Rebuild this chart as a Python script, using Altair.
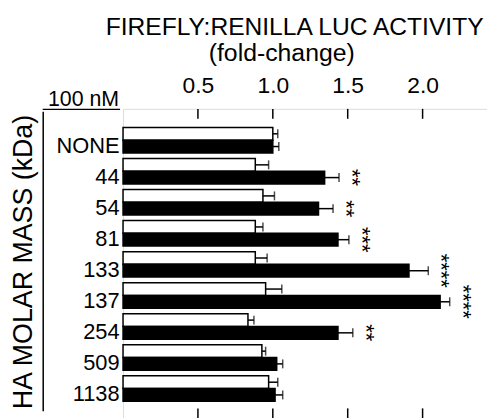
import altair as alt
import pandas as pd

categories = ["NONE", "44", "54", "81", "133", "137", "254", "509", "1138"]
control_mean = [1.00, 0.883, 0.934, 0.883, 0.883, 0.952, 0.834, 0.927, 0.972]
control_err = [0.033, 0.089, 0.077, 0.051, 0.079, 0.108, 0.040, 0.025, 0.061]
ha_mean = [1.00, 1.346, 1.305, 1.435, 1.909, 2.117, 1.435, 1.026, 1.015]
ha_err = [0.040, 0.096, 0.097, 0.073, 0.129, 0.064, 0.099, 0.040, 0.051]
stars = ["", "**", "**", "***", "****", "****", "**", "", ""]
tick_values = [0.5, 1.0, 1.5, 2.0]

rows = []
for i, c in enumerate(categories):
    rows.append(dict(cat=c, series="control", mean=control_mean[i], err=control_err[i], star=""))
    rows.append(dict(cat=c, series="ha", mean=ha_mean[i], err=ha_err[i], star=stars[i]))
df = pd.DataFrame(rows)
df["hi"] = df["mean"] + df["err"]

W, H = 367, 312
FONT = "Liberation Sans"

xaxis = alt.Axis(orient="top", values=tick_values, format=".1f", ticks=False, domain=False,
                 grid=False, labelFontSize=23, labelPadding=12, title=None, labelColor="black")
xscale = alt.Scale(domain=[0, 2.43], nice=False, zero=True)
yaxis = alt.Axis(ticks=False, domain=False, grid=False, labelFontSize=22, labelPadding=4,
                 labelOffset=6, labelColor="black",
                 title="HA MOLAR MASS (kDa)", titleFontSize=27, titleFontWeight="normal",
                 titleAngle=270, titleBaseline="alphabetic", titleAlign="center",
                 titleX=-92, titleY=154, titleColor="black")
yscale = alt.Scale(paddingInner=0.18, paddingOuter=0.5725, align=0.522)
Y = alt.Y("cat:N", sort=categories, scale=yscale, axis=yaxis)
YO = alt.YOffset("series:N", sort=["control", "ha"], scale=alt.Scale(paddingInner=0, paddingOuter=0))

base = alt.Chart(df)

bars = base.mark_bar(stroke="black", strokeWidth=1.5).encode(
    x=alt.X("mean:Q", scale=xscale, axis=xaxis),
    y=Y, yOffset=YO,
    fill=alt.Fill("series:N", scale=alt.Scale(domain=["control", "ha"], range=["white", "black"]), legend=None),
)

err = base.mark_rule(color="black", strokeWidth=1.5).encode(
    x=alt.X("mean:Q", scale=xscale, axis=xaxis), x2="hi:Q", y=Y, yOffset=YO,
)
caps = base.mark_tick(color="black", thickness=1.5, size=9).encode(
    x=alt.X("hi:Q", scale=xscale, axis=xaxis), y=Y, yOffset=YO,
)
starlayer = base.transform_filter(alt.datum.star != "").transform_calculate(
    sx="datum.hi + 0.04"
).mark_text(
    angle=90, align="center", baseline="alphabetic", fontSize=22, font=FONT, color="black"
).encode(
    x=alt.X("sx:Q", scale=xscale, axis=xaxis), y=Y, yOffset=YO, text="star:N",
)

tdf = pd.DataFrame({"v": tick_values})
top_ticks = alt.Chart(tdf).mark_rule(color="black", strokeWidth=1.5).encode(
    x=alt.X("v:Q", scale=xscale, axis=xaxis), y=alt.value(0), y2=alt.value(10)
)
bot_ticks = alt.Chart(tdf).mark_rule(color="black", strokeWidth=1.5).encode(
    x=alt.X("v:Q", scale=xscale, axis=xaxis), y=alt.value(H - 10), y2=alt.value(H)
)

one = alt.Data(values=[{"a": 1}])
title1 = alt.Chart(one).mark_text(text="FIREFLY:RENILLA LUC ACTIVITY", fontSize=24.8, font=FONT,
                                  align="center", baseline="alphabetic", color="black").encode(
    x=alt.value(173), y=alt.value(-74))
title2 = alt.Chart(one).mark_text(text="(fold-change)", fontSize=25, font=FONT,
                                  align="center", baseline="alphabetic", color="black").encode(
    x=alt.value(160), y=alt.value(-48))
nm = alt.Chart(one).mark_text(text="100 nM", fontSize=21.5, font=FONT,
                              align="right", baseline="alphabetic", color="black").encode(
    x=alt.value(-4), y=alt.value(-3))
underline = alt.Chart(one).mark_rule(color="black", strokeWidth=1.5).encode(
    x=alt.value(-81), x2=alt.value(-3), y=alt.value(0.5))
bracket = alt.Chart(one).mark_rule(color="black", strokeWidth=1.5).encode(
    x=alt.value(-80.5), y=alt.value(3), y2=alt.value(305))

chart = alt.layer(bars, err, caps, starlayer, top_ticks, bot_ticks,
                  title1, title2, nm, underline, bracket).properties(
    width=W, height=H,
    autosize=alt.AutoSizeParams(type="none"),
    padding={"left": 116, "top": 100, "right": 0, "bottom": 0},
).configure_view(stroke="black", strokeWidth=1.5).configure(font=FONT)

chart.save("out.html", embed_options={"renderer": "svg", "actions": False})
